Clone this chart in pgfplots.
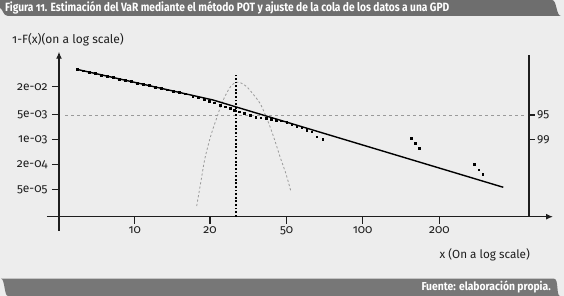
\documentclass[border=0pt]{standalone}
\usepackage{fontspec}
\setmainfont{Fira Sans}[Numbers=OldStyle]
\usepackage{graphicx}
\usepackage{pgfplots}
\pgfplotsset{compat=1.18}
\usetikzlibrary{arrows.meta}
\definecolor{bg}{HTML}{EDEDED}
\definecolor{bar}{HTML}{6E6E6E}
\definecolor{foot}{HTML}{777777}
\definecolor{ax}{HTML}{1E1E1E}
\definecolor{dgray}{HTML}{9A9A9A}
\begin{document}
\begin{tikzpicture}[x=1pt,y=1pt]
\fill[bg] (0,0) rectangle (564,296);
% title bar
\fill[bar] (0,296) -- (552,296) .. controls (557,296) and (556,280) .. (561,280) -- (8,280) .. controls (3,280) and (3,287) .. (0,288) -- cycle;
\node[anchor=west,text=white,inner sep=0pt] at (5,288) {\scalebox{0.85}[1]{\fontsize{12}{14}\selectfont\bfseries Figura 11. Estimación del VaR mediante el método POT y ajuste de la cola de los datos a una GPD}};
% footer bar
\fill[foot] (8,0) .. controls (4,0) and (5,17.3) .. (1,17.3) -- (554,17.3) .. controls (559,17.3) and (556,0) .. (560,0) -- cycle;
\node[anchor=east,text=white,inner sep=0pt] at (551,9) {\scalebox{0.9}[1]{\fontsize{11.5}{13}\selectfont\bfseries Fuente: elaboración propia.}};
% axis labels
\node[anchor=west,inner sep=0pt,text=ax] at (12,256) {\fontsize{12}{14}\selectfont 1-F(x)(on a log scale)};
\node[anchor=east,inner sep=0pt,text=ax] at (530,41) {\fontsize{11.7}{14}\selectfont x (On a log scale)};
\begin{axis}[
  at={(47,65.3)}, anchor=south west,
  x=1pt, y=1pt,
  xmin=-12, xmax=494, ymin=-14, ymax=165,
  axis lines=middle,
  clip=false,
  axis line style={line width=1.3pt, color=ax},
  every inner x axis line/.append style={-{Latex[length=7pt,width=6pt]}},
  every inner y axis line/.append style={-{Latex[length=7pt,width=6pt]}},
  tick align=outside,
  major tick length=7pt,
  tick style={line width=1.2pt, color=ax},
  xtick={75.7,151,227.7,303.7,380.3},
  xticklabels={10,20,50,100,200},
  ytick={27,52,77,102,130},
  yticklabels={5e-05,2e-04,1e-03,5e-03,2e-02},
  ticklabel style={font=\fontsize{12}{14}\selectfont, text=ax},
  yticklabel style={xshift=-1pt},
  xticklabel style={yshift=1pt},
]
% 95 quantile line
\addplot[dgray, line width=0.8pt, dash pattern=on 3pt off 3pt] coordinates {(6,101.7) (466,101.7)};
% right axis
\addplot[ax, line width=1.3pt] coordinates {(470,0) (470,162)};
\draw[ax, line width=1.2pt] (470,101.7) -- (476,101.7) node[right, inner sep=1.5pt, font=\fontsize{12}{14}\selectfont]{95};
\draw[ax, line width=1.2pt] (470,77) -- (476,77) node[right, inner sep=1.5pt, font=\fontsize{12}{14}\selectfont]{99};
% profile likelihood
\addplot[dgray, line width=0.8pt, dash pattern=on 2.2pt off 2.2pt, smooth] coordinates {
(137.7,10.7) (142,35.7) (146,58.7) (152,81.7) (157.7,98.7) (162.5,112.7) (167.7,123.7) (172,130.7) (177,134.4)
(182,133.7) (187.7,130) (194,122.7) (201,113.4) (206,102.7) (211,90) (216,75.7) (221,60) (227,42.7) (232,25)};
% VaR vertical
\addplot[black, line width=1.4pt, dash pattern=on 1.8pt off 1.8pt] coordinates {(177,0) (177,141.7)};
% fitted GPD
\addplot[black, line width=1.4pt] coordinates {(17.7,147.4) (154,116.7) (444.3,29.4)};
% empirical points
\addplot[only marks, mark=square*, mark size=0.95pt, black] coordinates {
(18,147.3) (24,145.95) (30,144.6) (36,143.25) (42,141.9) (48,140.5) (54,139.2) (60,137.85)
(66,136.5) (72,135.1) (78,133.8) (84,132.4) (90,131.1) (96,129.7) (102,128.4) (108,127.0)
(114,125.7) (120,124.3) (126,123.0)
(133.7,120.7) (139.3,119) (145,117.4) (150,115.7) (155.3,114) (161,111.7) (166,110) (171,108.4)
(175.3,106.4) (180.3,105) (185.3,103.4) (191,101.7) (196.7,99.7) (201.7,99) (207,98.4) (212,97.7)
(217,96.7) (222,96) (227.7,94.4) (232.7,92.4) (237.7,90.7) (242.7,89) (247.7,86.7) (252.7,85)
(257.7,80) (263.7,77.4)
(352,78.4) (356.3,73.4) (360.3,68.4)
(415.3,52.4) (419.7,47) (423.7,42.4)};
\end{axis}
\pgfresetboundingbox
\useasboundingbox (0,0) rectangle (564,296);
\end{tikzpicture}
\end{document}
